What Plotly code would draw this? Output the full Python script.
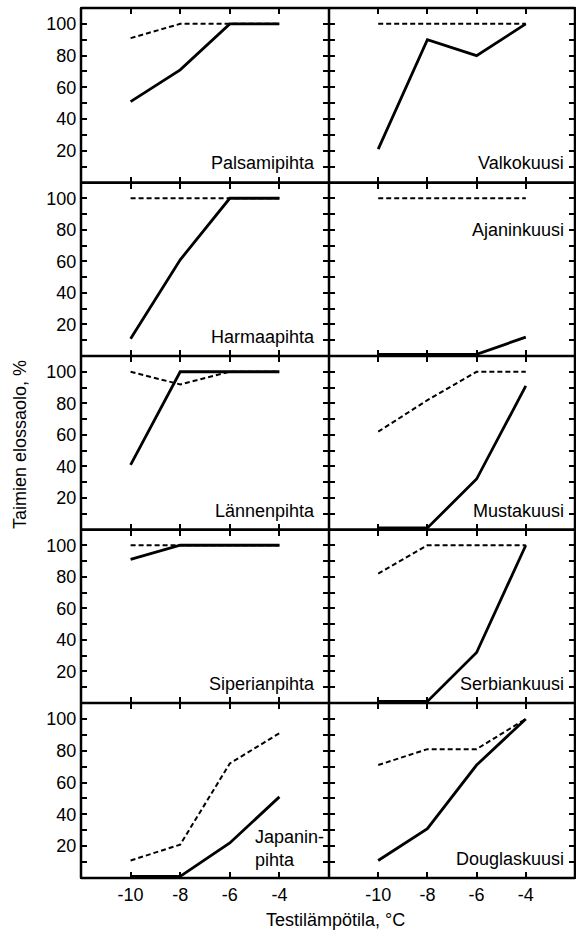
import plotly.graph_objects as go

# ---------------- data ----------------
temps = [-10, -8, -6, -4]
x_tick_labels = ["-10", "-8", "-6", "-4"]
y_tick_vals = [10, 20, 30, 40, 50, 60, 70, 80, 90, 100]
y_tick_labels = ["", "20", "", "40", "", "60", "", "80", "", "100"]

palsamipihta_solid = [51, 71, 100, 100]
palsamipihta_dashed = [91, 100, 100, 100]
valkokuusi_solid = [21, 90, 80, 100]
valkokuusi_dashed = [100, 100, 100, 100]
harmaapihta_solid = [11, 61, 100, 100]
harmaapihta_dashed = [100, 100, 100, 100]
ajaninkuusi_solid = [1, 1, 1, 12]
ajaninkuusi_dashed = [100, 100, 100, 100]
lannenpihta_solid = [41, 100, 100, 100]
lannenpihta_dashed = [100, 92, 100, 100]
mustakuusi_solid = [1, 1, 32, 91]
mustakuusi_dashed = [62, 82, 100, 100]
siperianpihta_solid = [91, 100, 100, 100]
siperianpihta_dashed = [100, 100, 100, 100]
serbiankuusi_solid = [1, 1, 32, 100]
serbiankuusi_dashed = [82, 100, 100, 100]
japaninpihta_solid = [1, 1, 22, 51]
japaninpihta_dashed = [11, 21, 72, 91]
douglaskuusi_solid = [11, 31, 71, 100]
douglaskuusi_dashed = [71, 81, 81, 100]

panel_labels = ["Palsamipihta", "Valkokuusi", "Harmaapihta", "Ajaninkuusi",
                "Lännenpihta", "Mustakuusi", "Siperianpihta", "Serbiankuusi",
                "Japanin-<br>pihta", "Douglaskuusi"]
panel_solid = [palsamipihta_solid, valkokuusi_solid, harmaapihta_solid,
               ajaninkuusi_solid, lannenpihta_solid, mustakuusi_solid,
               siperianpihta_solid, serbiankuusi_solid, japaninpihta_solid,
               douglaskuusi_solid]
panel_dashed = [palsamipihta_dashed, valkokuusi_dashed, harmaapihta_dashed,
                ajaninkuusi_dashed, lannenpihta_dashed, mustakuusi_dashed,
                siperianpihta_dashed, serbiankuusi_dashed, japaninpihta_dashed,
                douglaskuusi_dashed]

x_title = "Testilämpötila, °C"
y_title = "Taimien elossaolo, %"

# ---------------- layout geometry ----------------
W, H = 576, 931
col_px = [(81, 329), (329, 575)]
row_px = [(8, 182.5), (182.5, 356), (356, 529.5), (529.5, 703), (703, 878)]

FONT = "Liberation Sans, Arial, Helvetica, sans-serif"

fig = go.Figure()
layout = dict(
    width=W, height=H,
    margin=dict(l=0, r=0, t=0, b=0),
    paper_bgcolor="white", plot_bgcolor="white",
    showlegend=False,
    font=dict(family=FONT, size=18, color="black"),
)
annotations = []

for i in range(10):
    r, c = divmod(i, 2)
    n = i + 1
    xa = "x" if n == 1 else f"x{n}"
    ya = "y" if n == 1 else f"y{n}"
    fig.add_trace(go.Scatter(x=temps, y=panel_dashed[i], mode="lines",
                             line=dict(color="black", width=2, dash="5px,3px"),
                             xaxis=xa, yaxis=ya, hoverinfo="skip"))
    fig.add_trace(go.Scatter(x=temps, y=panel_solid[i], mode="lines",
                             line=dict(color="black", width=2.8),
                             xaxis=xa, yaxis=ya, hoverinfo="skip"))
    x0, x1 = col_px[c]
    y0, y1 = row_px[r]
    xkey = "xaxis" if n == 1 else f"xaxis{n}"
    ykey = "yaxis" if n == 1 else f"yaxis{n}"
    layout[xkey] = dict(
        domain=[x0 / W, x1 / W], anchor=ya, range=[-12, -2],
        tickvals=temps, ticktext=x_tick_labels,
        showticklabels=(r == 4), ticks="inside", ticklen=6, tickwidth=2,
        tickcolor="black", showline=True, linewidth=1, linecolor="black",
        mirror="ticks", showgrid=False, zeroline=False,
        tickfont=dict(size=18, family=FONT),
    )
    layout[ykey] = dict(
        domain=[1 - y1 / H, 1 - y0 / H], anchor=xa, range=[0, 110],
        tickvals=y_tick_vals, ticktext=y_tick_labels,
        showticklabels=(c == 0), ticks="inside", ticklen=6, tickwidth=2,
        tickcolor="black", showline=True, linewidth=1, linecolor="black",
        mirror="ticks", showgrid=False, zeroline=False,
        tickfont=dict(size=18, family=FONT),
    )
    # panel label
    if i == 8:
        annotations.append(dict(x=-5.06, y=18.5, xref=xa, yref=ya,
                                text=panel_labels[i], showarrow=False,
                                xanchor="left", yanchor="middle", align="left",
                                font=dict(size=18, family=FONT)))
    else:
        ly = 80 if i == 3 else 12
        lx = -2.5 if c == 0 else -2.35
        annotations.append(dict(x=lx, y=ly, xref=xa, yref=ya,
                                text=panel_labels[i], showarrow=False,
                                xanchor="right", yanchor="middle",
                                font=dict(size=18, family=FONT)))

annotations.append(dict(x=335 / W, y=1 - 920 / H, xref="paper", yref="paper",
                        text=x_title, showarrow=False, xanchor="center",
                        yanchor="middle", font=dict(size=18, family=FONT)))
annotations.append(dict(x=20 / W, y=1 - 445 / H, xref="paper", yref="paper",
                        text=y_title, showarrow=False, textangle=-90,
                        xanchor="center", yanchor="middle",
                        font=dict(size=18, family=FONT)))
layout["annotations"] = annotations

# frame lines (shared borders drawn once)
shapes = []
top, bottom = row_px[0][0], row_px[-1][1]
left, right = col_px[0][0], col_px[-1][1]
for xp in [left, col_px[0][1], right]:
    shapes.append(dict(type="line", xref="paper", yref="paper",
                       x0=xp / W, x1=xp / W, y0=1 - top / H, y1=1 - bottom / H,
                       line=dict(color="black", width=2.5)))
for yp in [top] + [rp[1] for rp in row_px]:
    shapes.append(dict(type="line", xref="paper", yref="paper",
                       x0=left / W, x1=right / W, y0=1 - yp / H, y1=1 - yp / H,
                       line=dict(color="black", width=2.5)))
layout["shapes"] = shapes

fig.update_layout(**layout)
fig.write_html("out.html")
